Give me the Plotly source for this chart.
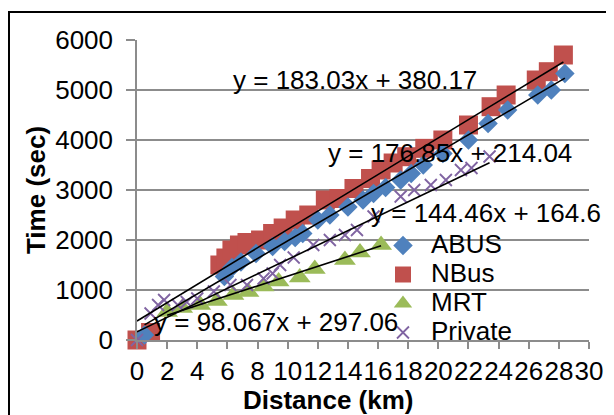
import plotly.graph_objects as go

# ---------------- data ----------------
abus_x = [0.5, 5.8, 6.3, 6.9, 7.9, 9.0, 9.8, 10.5, 11.0, 12.0, 12.8, 14.0, 15.0, 15.7, 16.5, 17.5, 18.2, 19.0, 20.3, 22.0, 23.3, 24.6, 26.6, 27.5, 28.4]
abus_y = [100, 1270, 1450, 1560, 1730, 1870, 1970, 2050, 2130, 2400, 2500, 2660, 2800, 2930, 3050, 3200, 3330, 3500, 3730, 4000, 4330, 4600, 4900, 5000, 5330]

nbus_x = [0.0, 0.9, 5.5, 5.9, 6.3, 6.8, 7.3, 8.2, 9.0, 9.7, 10.5, 11.4, 12.5, 13.4, 14.4, 15.5, 16.2, 17.0, 17.9, 19.1, 20.3, 22.0, 23.5, 24.5, 26.5, 27.3, 28.3]
nbus_y = [0, 150, 1500, 1640, 1800, 1900, 1950, 2000, 2130, 2240, 2400, 2500, 2800, 2830, 3030, 3230, 3400, 3540, 3666, 3833, 4000, 4300, 4666, 4900, 5200, 5366, 5700]

mrt_x = [2.0, 3.0, 4.2, 5.3, 6.4, 7.4, 8.4, 9.4, 10.8, 11.8, 13.8, 14.8, 16.2]
mrt_y = [560, 640, 700, 780, 900, 960, 1070, 1170, 1250, 1420, 1600, 1750, 1900]

priv_x = [0.0, 0.9, 1.4, 1.8, 2.7, 3.3, 4.0, 5.1, 6.2, 7.3, 8.4, 9.0, 9.5, 10.4, 11.7, 12.8, 13.8, 14.6, 15.7, 17.5, 18.4, 19.5, 20.5, 21.5, 22.2, 23.4]
priv_y = [0, 530, 700, 800, 700, 760, 830, 970, 1100, 1100, 1230, 1330, 1500, 1650, 1900, 2000, 2100, 2200, 2470, 2870, 3000, 3100, 3200, 3400, 3440, 3670]

series_names = ["ABUS", "NBus", "MRT", "Private"]
trend_slope = [176.85, 183.03, 98.067, 144.46]
trend_intercept = [214.04, 380.17, 297.06, 164.6]

x_ticks = list(range(0, 31, 2))
y_ticks = list(range(0, 6001, 1000))

x_title = "Distance (km)"
y_title = "Time (sec)"

# ---------------- styles ----------------
FONT = "Liberation Sans, Arial, sans-serif"
FS = 26
colors = {"ABUS": "#4F81BD", "NBus": "#C0504D", "MRT": "#9BBB59", "Private": "#8064A2"}
symbols = {"ABUS": "diamond", "NBus": "square", "MRT": "triangle-up", "Private": "x-thin-open"}
sizes = {"ABUS": 15, "NBus": 19, "MRT": 19, "Private": 12}

data = {
    "ABUS": (abus_x, abus_y),
    "NBus": (nbus_x, nbus_y),
    "MRT": (mrt_x, mrt_y),
    "Private": (priv_x, priv_y),
}

fig = go.Figure()

draw_order = ["NBus", "ABUS", "MRT", "Private"]
for name in draw_order:
    xs, ys = data[name]
    marker = dict(color=colors[name], symbol=symbols[name], size=sizes[name])
    if name == "Private":
        marker["line"] = dict(color=colors[name], width=1.8)
    else:
        marker["line"] = dict(width=0)
    fig.add_trace(go.Scatter(
        x=xs, y=ys, mode="markers",
        name=f"<span style='font-size:{FS}px'>{name}</span>",
        marker=marker, cliponaxis=False,
        legendrank=series_names.index(name) + 1,
    ))

# trendlines (linear fits as given by their equations)
label_pos = {  # where each equation label sits (data coords)
    "NBus": (14.5, 5200),
    "ABUS": (20.75, 3740),
    "Private": (23.15, 2540),
    "MRT": (9.2, 360),
}
for i, name in enumerate(series_names):
    xs, _ = data[name]
    x0, x1 = min(xs), max(xs)
    m, b = trend_slope[i], trend_intercept[i]
    fig.add_trace(go.Scatter(
        x=[x0, x1], y=[m * x0 + b, m * x1 + b], mode="lines",
        line=dict(color="black", width=1.6), showlegend=False, hoverinfo="skip",
        cliponaxis=False,
    ))
    lx, ly = label_pos[name]
    fig.add_annotation(
        x=lx, y=ly, xref="x", yref="y", text=f"y = {m}x + {b}", showarrow=False,
        font=dict(family=FONT, size=FS, color="black"), xanchor="center", yanchor="middle",
    )

# x-axis title
fig.add_annotation(
    x=0.4226, y=-0.2, xref="paper", yref="paper", text=f"<b>{x_title}</b>", showarrow=False,
    font=dict(family=FONT, size=FS, color="black"), xanchor="center", yanchor="middle",
)

# outer chart border
fig.add_shape(type="rect", xref="paper", yref="paper", x0=-0.2832, x1=1.2, y0=-0.4, y1=1.0933,
              line=dict(color="black", width=2), fillcolor="rgba(0,0,0,0)", layer="above")

fig.update_layout(
    width=614, height=415,
    margin=dict(l=129, r=33, t=32, b=83, autoexpand=False),
    paper_bgcolor="white", plot_bgcolor="white",
    font=dict(family=FONT, size=FS, color="black"),
    showlegend=True,
    legend=dict(
        x=0.5265, y=0.38, xanchor="left", yanchor="top",
        bgcolor="rgba(0,0,0,0)", borderwidth=0,
        font=dict(family=FONT, size=20, color="black"),
        tracegroupgap=0, itemclick=False, itemwidth=46,
    ),
)

fig.update_xaxes(
    range=[0, 30], tickmode="array", tickvals=x_ticks, ticktext=[str(v) for v in x_ticks],
    tickangle=0, showgrid=False, zeroline=False, automargin=False,
    showline=True, linecolor="#8C8C8C", linewidth=1.5,
    ticks="outside", ticklen=7, tickwidth=1.5, tickcolor="#8C8C8C",
    tickfont=dict(family=FONT, size=FS, color="black"),
)
fig.update_yaxes(
    range=[0, 6000], tickmode="array", tickvals=y_ticks, ticktext=[str(v) for v in y_ticks],
    showgrid=True, gridcolor="#8C8C8C", gridwidth=1.5, zeroline=False, automargin=False,
    showline=True, linecolor="#8C8C8C", linewidth=1.5,
    ticks="outside", ticklen=9, tickwidth=1.5, tickcolor="#8C8C8C",
    ticklabelstandoff=8,
    tickfont=dict(family=FONT, size=FS, color="black"),
    title=dict(text=f"<b>{y_title}</b>", font=dict(family=FONT, size=FS, color="black"), standoff=2),
)

fig.write_html("out.html")
